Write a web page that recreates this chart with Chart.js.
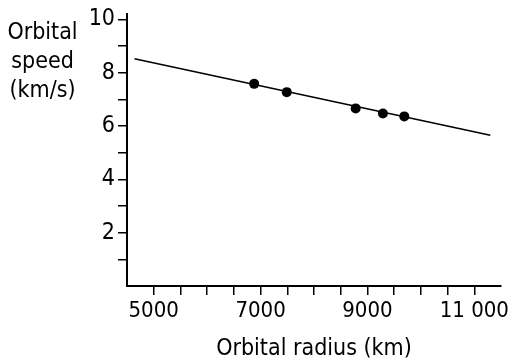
<!DOCTYPE html>
<html>
<head>
<meta charset="utf-8">
<script src="https://cdn.jsdelivr.net/npm/chart.js@4/dist/chart.umd.min.js"></script>
<style>
  html, body { margin: 0; padding: 0; background: #fff; }
  #wrap { position: relative; width: 508px; height: 363px; }
  #ytitle {
    position: absolute; left: 0; top: 17px; width: 85px;
    text-align: center; font-family: "Liberation Sans Narrow", "DejaVu Sans Condensed", sans-serif;
    font-size: 23px; line-height: 29px; color: #000;
  }
  canvas { position: absolute; left: 0; top: 0; }
</style>
</head>
<body>
<div id="wrap">
  <canvas id="c" width="508" height="363"></canvas>
  <div id="ytitle">Orbital<br>speed<br>(km/s)</div>
</div>
<script>
// Observed satellites
const radiusKm = [6880, 7490, 8780, 9290, 9690];
const speedKms = [7.58, 7.27, 6.66, 6.47, 6.36];
// Trend line end points
const lineRadius = [4640, 11300];
const lineSpeed = [8.52, 5.65];
// Axis ticks and labels
const xTickValues = [5000, 5500, 6000, 6500, 7000, 7500, 8000, 8500, 9000, 9500, 10000, 10500, 11000];
const xLabelValues = [5000, 7000, 9000, 11000];
const xLabelTexts = ['5000', '7000', '9000', '11 000'];
const yTickValues = [1, 2, 3, 4, 5, 6, 7, 8, 9, 10];
const yLabelValues = [2, 4, 6, 8, 10];
const yLabelTexts = ['2', '4', '6', '8', '10'];
const xTitle = 'Orbital radius (km)';

const FONT = '"Liberation Sans Narrow", "DejaVu Sans Condensed", sans-serif';
const INK = '#000';

new Chart(document.getElementById('c'), {
  type: 'scatter',
  data: {
    datasets: [
      {
        label: 'Trend',
        data: lineRadius.map((x, i) => ({ x, y: lineSpeed[i] })),
        showLine: true,
        borderColor: INK,
        borderWidth: 1.6,
        pointRadius: 0,
        fill: false
      },
      {
        label: 'Satellites',
        data: radiusKm.map((x, i) => ({ x, y: speedKms[i] })),
        backgroundColor: INK,
        borderColor: INK,
        pointRadius: 5,
        borderWidth: 0
      }
    ]
  },
  options: {
    responsive: false,
    animation: false,
    devicePixelRatio: 1,
    layout: { padding: { left: 0, right: 7, top: 14, bottom: 0 } },
    plugins: { legend: { display: false }, tooltip: { enabled: false } },
    scales: {
      x: {
        type: 'linear',
        min: 4500,
        max: 11500,
        afterBuildTicks: s => { s.ticks = xTickValues.map(v => ({ value: v })); },
        afterFit: s => { s.height = 77; s.paddingLeft = 0; s.paddingRight = 0; },
        grid: { drawOnChartArea: false, drawTicks: true, tickLength: 9, color: INK, lineWidth: 1.5 },
        border: { display: true, color: INK, width: 2 },
        ticks: {
          autoSkip: false,
          maxRotation: 0,
          padding: 5,
          color: INK,
          font: { family: FONT, size: 22, lineHeight: 1 },
          callback: v => { const i = xLabelValues.indexOf(v); return i >= 0 ? xLabelTexts[i] : ''; }
        },
        title: {
          display: true,
          text: xTitle,
          color: INK,
          padding: { top: 0, bottom: 0 },
          font: { family: FONT, size: 23, lineHeight: 1.2 }
        }
      },
      y: {
        type: 'linear',
        min: 0,
        max: 10.2,
        afterBuildTicks: s => { s.ticks = yTickValues.map(v => ({ value: v })); },
        afterFit: s => { s.width = 127; s.paddingTop = 0; s.paddingBottom = 0; },
        grid: { drawOnChartArea: false, drawTicks: true, tickLength: 9, color: INK, lineWidth: 1.5 },
        border: { display: true, color: INK, width: 2 },
        ticks: {
          autoSkip: false,
          padding: 3,
          color: INK,
          font: { family: FONT, size: 23, lineHeight: 1 },
          callback: v => { const i = yLabelValues.indexOf(v); return i >= 0 ? yLabelTexts[i] : ''; }
        }
      }
    }
  }
});
</script>
</body>
</html>
